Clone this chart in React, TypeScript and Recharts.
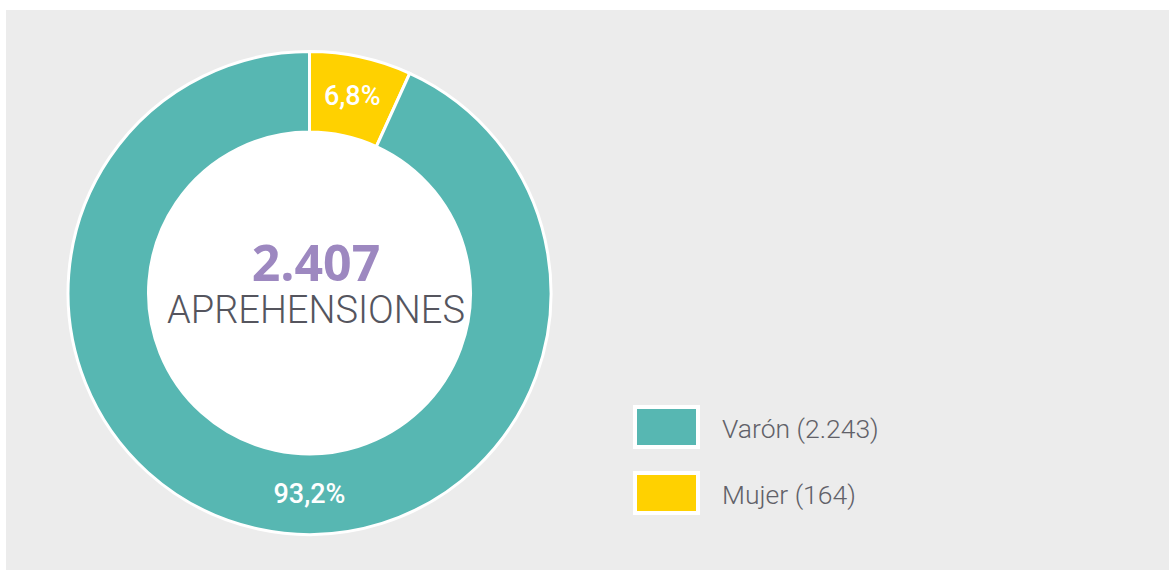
import { Pie, PieChart, Cell } from "recharts";

const CATEGORIES = ["Mujer", "Varón"];
const COUNTS = [164, 2243];
const PERCENT_LABELS = ["6,8%", "93,2%"];
const LEGEND_ORDER = ["Varón", "Mujer"];
const TOTAL_LABEL = "2.407";
const TOTAL_CAPTION = "APREHENSIONES";

const COLORS: Record<string, string> = { Varón: "#57b7b2", Mujer: "#ffd100" };

const data = CATEGORIES.map((name, i) => ({ name, value: COUNTS[i], pct: PERCENT_LABELS[i] }));
const hole = [{ name: "hole", value: 1 }];

const RAD = Math.PI / 180;

function renderLabel(props: any) {
  const { cx, cy, innerRadius, outerRadius, midAngle, payload, index } = props;
  const r = (innerRadius + outerRadius) / 2;
  // the big slice gets its label at the bottom of the ring
  const angle = index === 1 ? -90 : midAngle;
  const x = cx + r * Math.cos(angle * RAD);
  const y = cy - r * Math.sin(angle * RAD);
  return (
    <text
      x={x}
      y={y}
      fill="#ffffff"
      textAnchor="middle"
      dominantBaseline="central"
      style={{ fontFamily: "Roboto", fontWeight: 500, fontSize: 27 }}
    >
      {payload.pct}
    </text>
  );
}

export default function App() {
  return (
    <div style={{ position: "absolute", left: 0, top: 0, width: 1169, height: 570, background: "#ffffff" }}>
      <div style={{ position: "absolute", left: 6, top: 10, width: 1163, height: 560, background: "#ececec" }} />
      <div style={{ position: "absolute", left: 0, top: 0 }}>
        <PieChart width={1169} height={570} margin={{ top: 0, right: 0, bottom: 0, left: 0 }}>
          <Pie
            data={hole}
            dataKey="value"
            cx={309.5}
            cy={293}
            innerRadius={0}
            outerRadius={161}
            fill="#ffffff"
            stroke="none"
            isAnimationActive={false}
          />
          <Pie
            data={data}
            dataKey="value"
            nameKey="name"
            cx={309.5}
            cy={293}
            innerRadius={161}
            outerRadius={241.5}
            startAngle={90}
            endAngle={-270}
            stroke="#ffffff"
            strokeWidth={3}
            label={renderLabel}
            labelLine={false}
            isAnimationActive={false}
          >
            {data.map((d) => (
              <Cell key={d.name} fill={COLORS[d.name]} />
            ))}
          </Pie>
        </PieChart>
      </div>
      <svg width={1169} height={570} style={{ position: "absolute", left: 0, top: 0 }}>
        <text
          x={316}
          y={262}
          textAnchor="middle"
          dominantBaseline="central"
          fill="#9d88c0"
          style={{ fontFamily: "Open Sans", fontWeight: 700, fontSize: 50 }}
        >
          {TOTAL_LABEL}
        </text>
        <text
          x={316}
          y={310}
          textAnchor="middle"
          dominantBaseline="central"
          fill="#55555e"
          style={{ fontFamily: "Roboto", fontWeight: 300, fontSize: 38 }}
        >
          {TOTAL_CAPTION}
        </text>
        {LEGEND_ORDER.map((name, i) => {
          const idx = CATEGORIES.indexOf(name);
          const y = 405 + i * 66;
          return (
            <g key={name}>
              <rect x={635} y={y + 2} width={63} height={40} fill={COLORS[name]} stroke="#ffffff" strokeWidth={4} />
              <text
                x={722}
                y={y + 23}
                dominantBaseline="central"
                fill="#616168"
                style={{ fontFamily: "Roboto", fontWeight: 300, fontSize: 26.5 }}
              >
                {`${name} (${COUNTS[idx].toLocaleString("de-DE")})`}
              </text>
            </g>
          );
        })}
      </svg>
    </div>
  );
}
